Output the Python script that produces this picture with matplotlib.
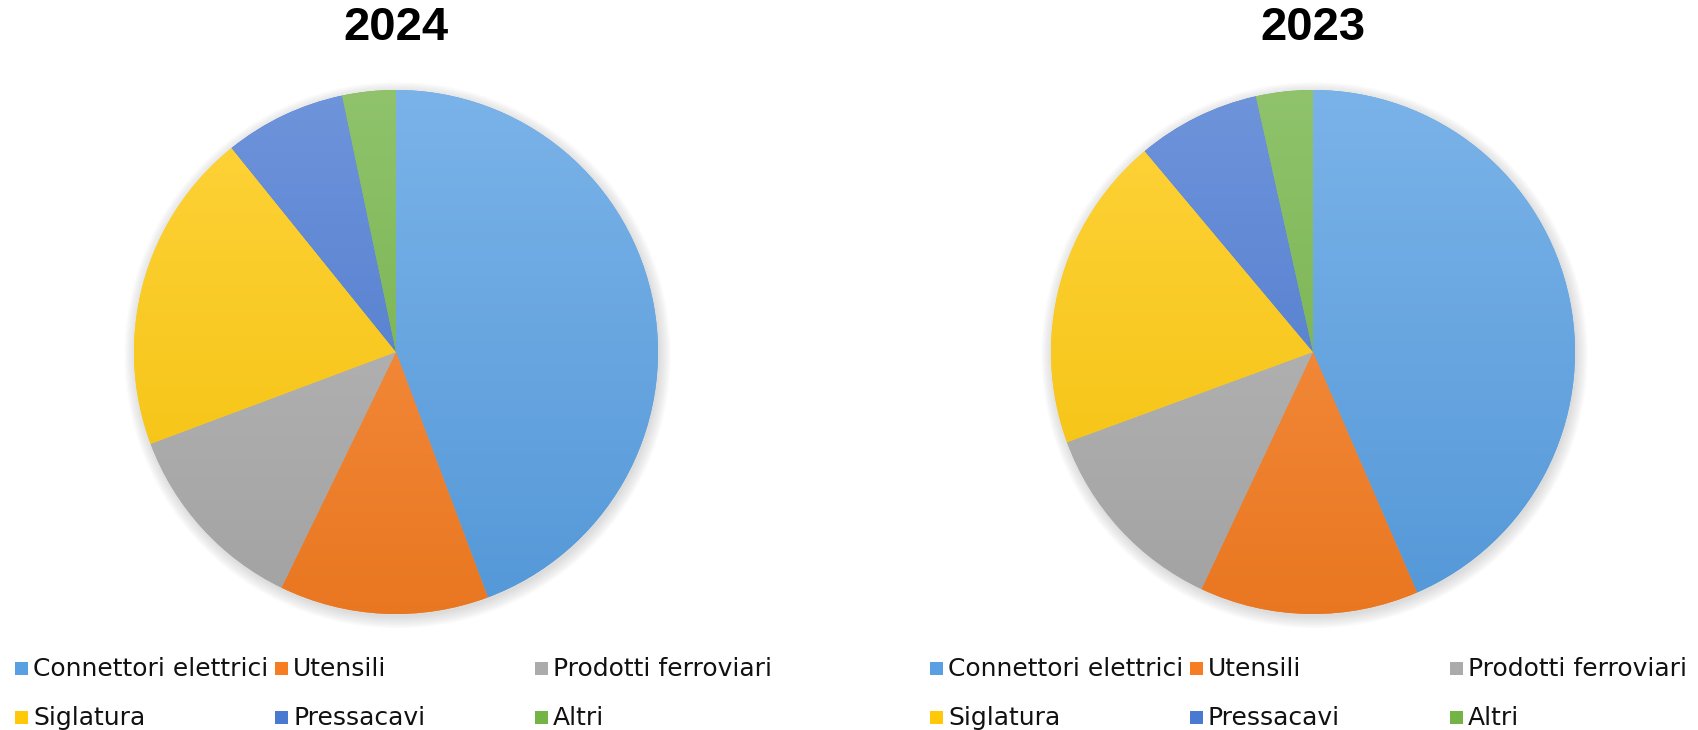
import numpy as np
import matplotlib.pyplot as plt
from matplotlib.patches import Rectangle, Circle
from matplotlib.colors import to_rgb

labels = ["Connettori elettrici", "Utensili", "Prodotti ferroviari",
          "Siglatura", "Pressacavi", "Altri"]
values_2024 = [44.3, 12.9, 12.1, 19.9, 7.5, 3.3]
values_2023 = [43.5, 13.5, 12.4, 19.5, 7.6, 3.5]
years = ["2024", "2023"]
colors = ["#59A0E3", "#F67D22", "#ABABAB", "#FFC90A", "#4A79D2", "#74B447"]

W, H = 1698, 730
fig = plt.figure(figsize=(W / 100, H / 100), dpi=100)


def px_axes(cx, cy, r):
    return fig.add_axes([(cx - r) / W, (H - cy - r) / H, 2 * r / W, 2 * r / H])


def gradient(c, n=256):
    # lighter at the top, a bit darker at the bottom
    c = np.array(to_rgb(c))
    top = c + (1 - c) * 0.2
    bot = c * 0.95
    t = np.linspace(0, 1, n)[:, None]
    return (top * (1 - t) + bot * t)[:, None, :]


def draw_pie(values, year, cx, cy, r, legend_x):
    ax = px_axes(cx, cy, r)
    # soft shadow
    for k in range(8):
        ax.add_patch(Circle((0.006, -0.012), 1.0 + k * 0.006, color="#808080",
                            alpha=0.035, lw=0, zorder=0, clip_on=False))
    wedges, _ = ax.pie(values, colors=colors, startangle=90, counterclock=False,
                       wedgeprops=dict(linewidth=0))
    for w, c in zip(wedges, colors):
        w.set_zorder(1)
        im = ax.imshow(gradient(c), extent=(-1, 1, -1, 1), origin="upper",
                       aspect="auto", zorder=2, interpolation="bilinear")
        im.set_clip_path(w)
    ax.set_xlim(-1, 1)
    ax.set_ylim(-1, 1)
    ax.axis("off")

    fig.text(cx / W, 1 - 28 / H, year, ha="center", va="center",
             fontsize=34, fontweight="bold", family="Liberation Sans")

    # legend, 3 columns x 2 rows
    for i, lab in enumerate(labels):
        col, row = i % 3, i // 3
        x = legend_x + col * 260
        base = 676 + row * 49
        fig.add_artist(Rectangle((x / W, 1 - (base - 1) / H), 13 / W, 13 / H,
                                 transform=fig.transFigure, color=colors[i], lw=0))
        fig.text((x + 18) / W, 1 - base / H, lab, ha="left", va="baseline",
                 fontsize=18, family="DejaVu Sans", color="#111111")


draw_pie(values_2024, years[0], 396, 352, 262, 15)
draw_pie(values_2023, years[1], 1313, 352, 262, 930)

fig.savefig("out.png", dpi=100)
